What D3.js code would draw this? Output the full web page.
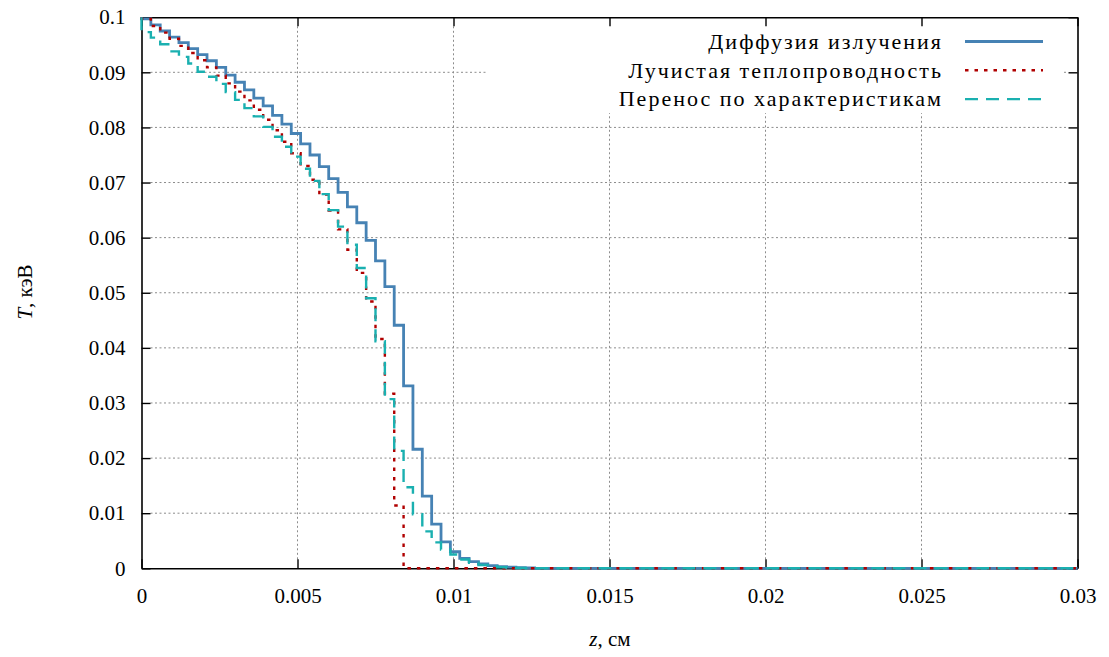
<!DOCTYPE html>
<html>
<head>
<meta charset="utf-8">
<script src="https://cdn.jsdelivr.net/npm/d3@7"></script>
<style>
body { margin: 0; background: #fff; }
</style>
</head>
<body>
<div id="chart"></div>
<script>
// Variables
var width = 1109,
	height = 657,
	margin = {left: 141.5, right: 31.5, top: 17.2, bottom: 88.7},
	cellSize = 0.0003,   // mesh step, cm
	zMax = 0.03,
	tBoundary = 0.1,     // temperature at z = 0
	serif = '"Liberation Serif", "Times New Roman", serif';

// T in each cell (keV), cells beyond the listed ones are cold (0)
var diffusion = [
	0.0997, 0.0986, 0.0975, 0.0964, 0.0954, 0.0943, 0.0932, 0.0921, 0.0909, 0.0895,
	0.0882, 0.0868, 0.0853, 0.0839, 0.0822, 0.0806, 0.0789, 0.0770, 0.0750, 0.0729,
	0.0707, 0.0682, 0.0656, 0.0627, 0.0595, 0.0558, 0.0511, 0.0441, 0.0331, 0.0216,
	0.0131, 0.0080, 0.0048, 0.0030, 0.0018, 0.0012, 0.0008, 0.0005, 0.0003, 0.0002,
	0.0001, 0.00005
];
var conduction = [
	0.0997, 0.0984, 0.0972, 0.0961, 0.0948, 0.0935, 0.0922, 0.0909, 0.0894, 0.0880,
	0.0865, 0.0849, 0.0832, 0.0814, 0.0795, 0.0774, 0.0753, 0.0730, 0.0705, 0.0678,
	0.0649, 0.0615, 0.0578, 0.0536, 0.0484, 0.0416, 0.0317, 0.0114
];
var characteristics = [
	0.0973, 0.0963, 0.0951, 0.0938, 0.0928, 0.0916, 0.0901, 0.0892, 0.0879, 0.0864,
	0.0850, 0.0835, 0.0820, 0.0801, 0.0783, 0.0765, 0.0747, 0.0725, 0.0703, 0.0679,
	0.0650, 0.0620, 0.0587, 0.0545, 0.0490, 0.0412, 0.0307, 0.0213, 0.0147, 0.0098,
	0.0067, 0.0047, 0.0034, 0.0025, 0.0016, 0.0010, 0.0006, 0.0004, 0.0002, 0.0001,
	0.00005
];

var seriesNames = ["Диффузия излучения", "Лучистая теплопроводность", "Перенос по характеристикам"],
	seriesColors = ["#4682b4", "#b00000", "#1ab0b0"],
	seriesDash = [null, "3.5,6", "13,8"],
	seriesWidth = [2.8, 2.4, 2.4];

var xTicks = [0, 0.005, 0.01, 0.015, 0.02, 0.025, 0.03],
	xTickLabels = ["0", "0.005", "0.01", "0.015", "0.02", "0.025", "0.03"],
	yTicks = [0, 0.01, 0.02, 0.03, 0.04, 0.05, 0.06, 0.07, 0.08, 0.09, 0.1],
	yTickLabels = ["0", "0.01", "0.02", "0.03", "0.04", "0.05", "0.06", "0.07", "0.08", "0.09", "0.1"];

var x = d3.scaleLinear().domain([0, zMax]).range([margin.left, width - margin.right]);
var y = d3.scaleLinear().domain([0, 0.1]).range([height - margin.bottom, margin.top]);

var svg = d3.select("#chart").append("svg")
	.attr("width", width)
	.attr("height", height);

// grid
var grid = svg.append("g").attr("class", "grid")
	.attr("stroke", "#8c8c8c")
	.attr("stroke-width", 1)
	.attr("stroke-dasharray", "2,2.5");
grid.selectAll("line.gx")
	.data(xTicks.slice(1, -1))
	.enter().append("line")
	.attr("x1", function(d) { return x(d); })
	.attr("x2", function(d) { return x(d); })
	.attr("y1", y(0) - 9)
	.attr("y2", y(0.1) + 9);
grid.selectAll("line.gy")
	.data(yTicks.slice(1, -1))
	.enter().append("line")
	.attr("y1", function(d) { return y(d); })
	.attr("y2", function(d) { return y(d); })
	.attr("x1", x(0) + 9)
	.attr("x2", x(zMax) - 9);

// legend background hides the grid
svg.append("rect")
	.attr("x", 487)
	.attr("y", 26)
	.attr("width", 577)
	.attr("height", 87)
	.attr("fill", "#fff");

// axes with mirrored inner ticks
var axisG = svg.append("g").attr("class", "axes");
axisG.append("g")
	.attr("transform", "translate(0," + y(0) + ")")
	.call(d3.axisBottom(x).tickValues(xTicks).tickSizeInner(-9).tickSizeOuter(0)
		.tickPadding(20).tickFormat(function(d, i) { return xTickLabels[i]; }));
axisG.append("g")
	.attr("transform", "translate(0," + y(0.1) + ")")
	.call(d3.axisTop(x).tickValues(xTicks).tickSizeInner(-9).tickSizeOuter(0).tickFormat(""));
axisG.append("g")
	.attr("transform", "translate(" + x(0) + ",0)")
	.call(d3.axisLeft(y).tickValues(yTicks).tickSizeInner(-9).tickSizeOuter(0)
		.tickPadding(16).tickFormat(function(d, i) { return yTickLabels[i]; }));
axisG.append("g")
	.attr("transform", "translate(" + x(zMax) + ",0)")
	.call(d3.axisRight(y).tickValues(yTicks).tickSizeInner(-9).tickSizeOuter(0).tickFormat(""));
axisG.selectAll(".domain").attr("stroke", "#000").attr("stroke-width", 1.6);
axisG.selectAll(".tick line").attr("stroke", "#000").attr("stroke-width", 1.4);
axisG.selectAll(".tick text")
	.style("font-family", serif)
	.style("font-size", "21px")
	.attr("fill", "#000");

// step curves: one value per cell
function stepPoints(values) {
	var nCells = Math.round(zMax / cellSize);
	var pts = [[0, tBoundary]];
	d3.range(nCells).forEach(function(i) {
		pts.push([i * cellSize, values[i] || 0]);
	});
	pts.push([zMax, values[nCells - 1] || 0]);
	return pts;
}

var line = d3.line()
	.x(function(d) { return x(d[0]); })
	.y(function(d) { return y(d[1]); })
	.curve(d3.curveStepAfter);

var allSeries = [diffusion, conduction, characteristics];
svg.append("g").attr("class", "series")
	.selectAll("path")
	.data(allSeries)
	.enter().append("path")
	.attr("d", function(d) { return line(stepPoints(d)); })
	.attr("fill", "none")
	.attr("stroke", function(d, i) { return seriesColors[i]; })
	.attr("stroke-width", function(d, i) { return seriesWidth[i]; })
	.attr("stroke-dasharray", function(d, i) { return seriesDash[i]; })
	.attr("stroke-linejoin", "miter");

// legend
var legend = svg.append("g").attr("class", "legend")
	.selectAll("g")
	.data(seriesNames)
	.enter().append("g")
	.attr("transform", function(d, i) { return "translate(0," + (41.5 + i * 28.8) + ")"; });
legend.append("line")
	.attr("x1", 965).attr("x2", 1043)
	.attr("y1", 0).attr("y2", 0)
	.attr("stroke", function(d, i) { return seriesColors[i]; })
	.attr("stroke-width", function(d, i) { return seriesWidth[i]; })
	.attr("stroke-dasharray", function(d, i) { return seriesDash[i]; });
legend.append("text")
	.attr("x", 943)
	.attr("dy", "0.33em")
	.attr("text-anchor", "end")
	.style("font-family", serif)
	.style("font-size", "22px")
	.style("letter-spacing", "2px")
	.text(function(d) { return d; });

// axis titles
svg.append("text")
	.attr("transform", "translate(32,292) rotate(-90)")
	.attr("text-anchor", "middle")
	.style("font-family", serif)
	.style("font-size", "21px")
	.html('<tspan font-style="italic">T</tspan>, кэВ');
svg.append("text")
	.attr("x", 610)
	.attr("y", 646)
	.attr("text-anchor", "middle")
	.style("font-family", serif)
	.style("font-size", "21px")
	.html('<tspan font-style="italic">z</tspan>, см');
</script>
</body>
</html>
